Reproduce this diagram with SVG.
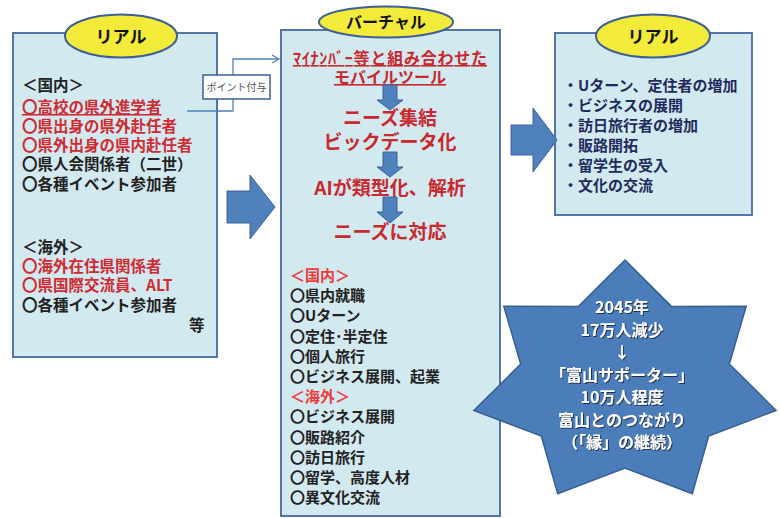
<svg xmlns="http://www.w3.org/2000/svg" width="780" height="518" viewBox="0 0 780 518">
<defs>
<style>
.box{fill:#d3e9f0;stroke:#5575a8;stroke-width:2}
.ell{fill:#f3eb3a;stroke:#3d5f96;stroke-width:2}
.barrow{fill:#4f81bd;stroke:#3a6396;stroke-width:1}
text{font-family:"Noto Sans CJK JP","Noto Sans",sans-serif;font-weight:700}
.t{font-size:15.5px;fill:#222}
.r{font-size:15.5px;fill:#d02a32}
.m{font-size:15px;fill:#222}
.mr{font-size:15px;fill:#ee3b3b}
.rt{font-size:15px;fill:#1f2b5c}
.h{font-size:17px;fill:#111;text-anchor:middle}
.vr{fill:#c8282e;text-anchor:middle}
.st{font-size:16px;fill:#fff;text-anchor:middle;filter:url(#ts)}
.u{text-decoration:underline}
</style>
<filter id="ts" x="-10%" y="-30%" width="120%" height="160%">
<feDropShadow dx="1" dy="1" stdDeviation="0.7" flood-color="#15243a" flood-opacity="0.85"/>
</filter>
<marker id="open" markerWidth="10" markerHeight="10" refX="8" refY="5" orient="auto" markerUnits="userSpaceOnUse">
<path d="M1,1 L8,5 L1,9" fill="none" stroke="#4f81bd" stroke-width="1.3"/>
</marker>
</defs>

<g id="real-left">
<rect class="box" x="13" y="33" width="204" height="324"/>
<ellipse class="ell" cx="121" cy="36" rx="56" ry="21.5"/>
<text class="h" x="121" y="43">リアル</text>
<text class="t" x="22" y="91">＜国内＞</text>
<text class="r u" x="22" y="113">〇高校の県外進学者</text>
<text class="r" x="22" y="132">〇県出身の県外赴任者</text>
<text class="r" x="22" y="151">〇県外出身の県内赴任者</text>
<text class="t" x="22" y="170">〇県人会関係者（二世）</text>
<text class="t" x="22" y="190">〇各種イベント参加者</text>
<text class="t" x="22" y="253">＜海外＞</text>
<text class="r" x="22" y="272">〇海外在住県関係者</text>
<text class="r" x="22" y="291">〇県国際交流員、ALT</text>
<text class="t" x="22" y="311">〇各種イベント参加者</text>
<text class="t" x="189" y="331">等</text>
</g>

<g id="virtual">
<rect class="box" x="281" y="30" width="219" height="486"/>
<ellipse class="ell" cx="386" cy="22" rx="67" ry="15.5"/>
<text class="h" x="386" y="28" style="font-size:16px">バーチャル</text>
<text class="vr u" x="390" y="64" style="font-size:16px" textLength="194" lengthAdjust="spacing">ﾏｲﾅﾝﾊﾞｰ等と組み合わせた</text>
<text class="vr u" x="390" y="83" style="font-size:16px">モバイルツール</text>
<path class="barrow" d="M383,85 H397 V100 H403 L390,110 L377,100 H383 Z"/>
<text class="vr" x="390" y="125" style="font-size:19px">ニーズ集結</text>
<text class="vr" x="390" y="149" style="font-size:19px">ビックデータ化</text>
<path class="barrow" d="M383,152 H397 V167 H403 L390,177 L377,167 H383 Z"/>
<text class="vr" x="390" y="195" style="font-size:19px">AIが類型化、解析</text>
<path class="barrow" d="M383,197 H397 V212 H403 L390,223 L377,212 H383 Z"/>
<text class="vr" x="390" y="239" style="font-size:19px">ニーズに対応</text>
<text class="mr" x="290" y="281">＜国内＞</text>
<text class="m" x="290" y="301">〇県内就職</text>
<text class="m" x="290" y="321">〇Uターン</text>
<text class="m" x="290" y="342">〇定住･半定住</text>
<text class="m" x="290" y="362">〇個人旅行</text>
<text class="m" x="290" y="382">〇ビジネス展開、起業</text>
<text class="mr" x="290" y="402">＜海外＞</text>
<text class="m" x="290" y="422">〇ビジネス展開</text>
<text class="m" x="290" y="443">〇販路紹介</text>
<text class="m" x="290" y="463">〇訪日旅行</text>
<text class="m" x="290" y="483">〇留学、高度人材</text>
<text class="m" x="290" y="503">〇異文化交流</text>
</g>

<g id="real-right">
<rect class="box" x="555" y="33" width="197" height="182"/>
<ellipse class="ell" cx="653" cy="36" rx="57" ry="21.5"/>
<text class="h" x="653" y="43">リアル</text>
<text class="rt" x="563" y="91">・Uターン、定住者の増加</text>
<text class="rt" x="563" y="111">・ビジネスの展開</text>
<text class="rt" x="563" y="131">・訪日旅行者の増加</text>
<text class="rt" x="563" y="151">・販路開拓</text>
<text class="rt" x="563" y="171">・留学生の受入</text>
<text class="rt" x="563" y="191">・文化の交流</text>
</g>

<g id="connectors">
<path class="barrow" d="M227,191 H250 V175 L275,207 L250,239 V223 H227 Z"/>
<path class="barrow" d="M511,125 H533 V108 L557,140 L533,172 V155 H511 Z"/>
<path d="M187,111 H233 V59 H279" fill="none" stroke="#4f81bd" stroke-width="1.3" marker-end="url(#open)"/>
</g>

<g id="point-label">
<rect x="203" y="75" width="67" height="24" fill="#fff" stroke="#3d5f96" stroke-width="1.5"/>
<text x="236.5" y="91" style="font-size:10px;font-weight:400;fill:#555;text-anchor:middle">ポイント付与</text>
</g>

<g id="star">
<path d="M625,260 L671.4,306.4 L746.2,306.3 L729.3,364.1 L776.1,410.4 L708.7,436 L692.3,493.8 L625,468 L557.7,493.8 L541.3,436 L473.9,410.4 L520.7,364.1 L503.8,306.3 L578.6,306.4 Z" fill="#4a7dba" stroke="#38608f" stroke-width="1.5"/>
<text class="st" x="622" y="313">2045年</text>
<text class="st" x="622" y="336">17万人減少</text>
<text class="st" x="622" y="358">↓</text>
<text class="st" x="622" y="381">「富山サポーター」</text>
<text class="st" x="622" y="403">10万人程度</text>
<text class="st" x="622" y="426">富山とのつながり</text>
<text class="st" x="622" y="448">（「縁」の継続）</text>
</g>
</svg>
